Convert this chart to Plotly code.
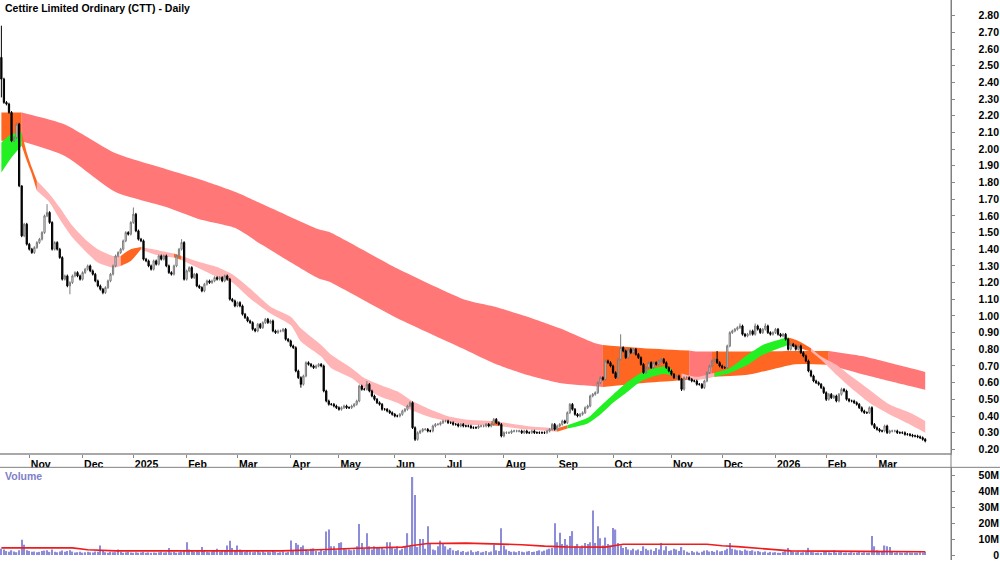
import numpy as np
import pandas as pd
import plotly.graph_objects as go

# ---------------- calendar (ASX trading days) ----------------
holidays = ["2024-12-25", "2024-12-26", "2025-01-01", "2025-01-27", "2025-04-18",
            "2025-04-21", "2025-04-25", "2025-06-09", "2025-12-25", "2025-12-26",
            "2026-01-01", "2026-01-26"]
dates = pd.bdate_range("2024-10-17", "2026-03-27")
dates = dates[~dates.isin(pd.to_datetime(holidays))]

month_labels = ["Nov", "Dec", "2025", "Feb", "Mar", "Apr", "May", "Jun", "Jul",
                "Aug", "Sep", "Oct", "Nov", "Dec", "2026", "Feb", "Mar"]
price_tick_labels = ["%.2f" % (v / 100) for v in range(20, 281, 10)]
volume_tick_labels = ["0", "10M", "20M", "30M", "40M", "50M"]

# ---------------- daily closes ----------------
close = [
    2.42, 2.28, 2.27, 2.22, 2.05, 2.07, 2.15, 1.78, 1.48, 1.55,
    1.43, 1.40, 1.38, 1.41, 1.44, 1.46, 1.50, 1.60, 1.62, 1.56,
    1.40, 1.44, 1.40, 1.35, 1.22, 1.24, 1.18, 1.20, 1.24, 1.26,
    1.24, 1.22, 1.26, 1.28, 1.30, 1.27, 1.25, 1.21, 1.18, 1.16,
    1.14, 1.17, 1.21, 1.25, 1.30, 1.36, 1.38, 1.40, 1.45, 1.50,
    1.49, 1.56, 1.61, 1.51, 1.46, 1.45, 1.34, 1.33, 1.30, 1.28,
    1.33, 1.31, 1.36, 1.34, 1.36, 1.30, 1.26, 1.25, 1.30, 1.36,
    1.40, 1.44, 1.22, 1.27, 1.29, 1.23, 1.25, 1.18, 1.17, 1.15,
    1.19, 1.21, 1.20, 1.21, 1.23, 1.22, 1.23, 1.21, 1.24, 1.22,
    1.10, 1.09, 1.06, 1.08, 1.06, 1.01, 0.99, 0.97, 0.96, 0.92,
    0.91, 0.95, 0.93, 0.96, 0.98, 0.96, 0.97, 0.91, 0.90, 0.91,
    0.91, 0.92, 0.86, 0.85, 0.82, 0.81, 0.67, 0.63, 0.59, 0.64,
    0.72, 0.71, 0.70, 0.69, 0.70, 0.71, 0.70, 0.55, 0.49, 0.47,
    0.47, 0.46, 0.45, 0.44, 0.45, 0.46, 0.45, 0.45, 0.46, 0.47,
    0.49, 0.58, 0.56, 0.56, 0.59, 0.55, 0.52, 0.50, 0.48, 0.47,
    0.44, 0.44, 0.43, 0.42, 0.41, 0.40, 0.40, 0.41, 0.43, 0.44,
    0.46, 0.48, 0.33, 0.26, 0.30, 0.31, 0.32, 0.32, 0.31, 0.31,
    0.34, 0.35, 0.35, 0.36, 0.37, 0.37, 0.36, 0.36, 0.35, 0.35,
    0.34, 0.35, 0.34, 0.34, 0.34, 0.33, 0.33, 0.33, 0.34, 0.34,
    0.34, 0.35, 0.34, 0.35, 0.38, 0.36, 0.35, 0.28, 0.30, 0.30,
    0.30, 0.31, 0.31, 0.31, 0.31, 0.30, 0.31, 0.30, 0.30, 0.31,
    0.30, 0.30, 0.30, 0.30, 0.30, 0.31, 0.32, 0.35, 0.32, 0.34,
    0.35, 0.37, 0.36, 0.42, 0.47, 0.44, 0.41, 0.40, 0.41, 0.42,
    0.45, 0.46, 0.52, 0.53, 0.54, 0.60, 0.63, 0.62, 0.73, 0.72,
    0.70, 0.66, 0.63, 0.74, 0.81, 0.79, 0.75, 0.80, 0.78, 0.80,
    0.77, 0.75, 0.71, 0.66, 0.69, 0.72, 0.69, 0.72, 0.71, 0.73,
    0.74, 0.72, 0.69, 0.67, 0.65, 0.63, 0.64, 0.62, 0.56, 0.63,
    0.63, 0.62, 0.61, 0.61, 0.59, 0.59, 0.57, 0.61, 0.66, 0.70,
    0.73, 0.74, 0.72, 0.70, 0.69, 0.69, 0.82, 0.90, 0.91, 0.92,
    0.93, 0.94, 0.89, 0.88, 0.89, 0.91, 0.89, 0.94, 0.92, 0.90,
    0.92, 0.94, 0.90, 0.89, 0.90, 0.92, 0.89, 0.88, 0.89, 0.86,
    0.80, 0.83, 0.82, 0.80, 0.82, 0.78, 0.76, 0.73, 0.67, 0.64,
    0.61, 0.60, 0.59, 0.57, 0.54, 0.50, 0.53, 0.51, 0.52, 0.49,
    0.53, 0.56, 0.55, 0.50, 0.49, 0.49, 0.48, 0.47, 0.45, 0.43,
    0.42, 0.42, 0.45, 0.35, 0.33, 0.32, 0.31, 0.31, 0.34, 0.30,
    0.31, 0.31, 0.31, 0.30, 0.30, 0.30, 0.29, 0.29, 0.285, 0.28,
    0.28, 0.275, 0.27, 0.26, 0.25,
]
first_open = 2.55
wick = 0.008
high_read = {0: 2.74, 8: 1.74, 18: 1.67, 52: 1.65, 71: 1.46, 144: 0.61, 244: 0.89,
             282: 0.79, 291: 0.955, 297: 0.955, 301: 0.955, 331: 0.57}
low_read = {0: 2.31, 27: 1.13, 40: 1.13, 118: 0.57, 163: 0.25, 268: 0.55, 325: 0.49}

# ---------------- daily volume, millions ----------------
volume_m = [
    4.0, 3.5, 2.5, 2.0, 3.0, 2.2, 1.8, 3.0, 9.6, 6.5,
    3.0, 2.5, 2.0, 2.2, 1.8, 2.0, 2.5, 2.8, 3.0, 2.0,
    3.5, 2.0, 1.8, 2.2, 2.8, 2.0, 2.5, 3.0, 2.2, 1.6,
    1.8, 2.0, 1.5, 1.7, 2.0, 1.8, 1.6, 2.2, 2.0, 6.0,
    2.5, 1.8, 1.5, 2.0, 1.7, 1.8, 3.5, 2.0, 1.5, 1.8,
    2.0, 1.6, 1.4, 1.8, 1.5, 1.6, 1.9, 1.5, 1.7, 1.4,
    1.6, 1.5, 1.8, 2.0, 1.6, 1.8, 4.5, 1.7, 2.0, 1.5,
    1.8, 2.2, 2.5, 8.0, 3.5, 2.5, 2.0, 3.0, 2.2, 5.0,
    2.5, 2.0, 1.8, 2.2, 2.8, 4.0, 2.0, 2.5, 3.0, 6.0,
    9.0, 4.5, 3.0, 6.0, 3.5, 2.5, 2.0, 2.8, 2.2, 1.8,
    2.0, 2.5, 1.8, 2.2, 1.6, 2.0, 1.8, 2.5, 2.0, 1.5,
    1.8, 2.2, 1.6, 2.0, 9.2, 3.0, 7.6, 6.5, 5.0, 6.0,
    3.5, 2.5, 4.0, 4.2, 2.5, 2.0, 3.5, 2.5, 14.7, 16.0,
    5.5, 5.5, 3.0, 7.6, 8.0, 4.0, 3.5, 3.5, 3.0, 3.5,
    5.5, 19.5, 7.5, 4.0, 13.7, 5.5, 3.5, 5.5, 4.5, 5.0,
    4.5, 3.5, 8.0, 8.0, 5.0, 4.0, 5.5, 3.0, 4.0, 5.5,
    13.7, 5.5, 49.0, 37.7, 5.0, 10.0, 10.0, 4.0, 18.0, 7.0,
    3.5, 3.0, 5.5, 9.0, 7.5, 5.5, 3.5, 4.5, 3.0, 2.5,
    3.0, 2.0, 2.5, 1.8, 2.2, 3.0, 1.8, 2.0, 2.5, 1.6,
    2.0, 2.5, 1.8, 2.2, 6.5, 3.0, 2.5, 16.8, 6.0, 3.5,
    2.5, 2.0, 2.2, 1.8, 2.5, 2.0, 1.8, 2.2, 2.5, 1.9,
    2.0, 2.5, 3.0, 2.2, 2.8, 3.5, 4.0, 4.5, 20.0, 8.0,
    14.0, 7.0, 10.0, 6.5, 12.0, 15.0, 5.5, 7.0, 4.8, 6.0,
    7.5, 7.0, 8.0, 28.0, 7.5, 18.0, 10.6, 6.0, 11.0, 7.0,
    6.0, 17.0, 16.0, 7.5, 6.0, 4.5, 5.0, 3.5, 3.0, 4.0,
    2.8, 3.5, 2.5, 5.5, 4.0, 3.0, 3.5, 2.5, 4.5, 3.5,
    7.5, 3.0, 5.5, 2.5, 3.0, 4.0, 3.5, 2.5, 5.0, 3.0,
    2.0, 1.5, 2.5, 1.8, 2.2, 1.5, 2.0, 2.8, 3.0, 2.2,
    2.5, 2.0, 3.0, 2.2, 2.5, 3.0, 4.0, 7.5, 4.0, 3.5,
    3.0, 3.0, 2.5, 3.5, 2.8, 2.5, 3.0, 2.2, 2.5, 2.0,
    1.8, 2.2, 1.5, 2.0, 1.6, 1.8, 1.5, 1.4, 2.0, 2.5,
    4.5, 2.5, 2.0, 1.8, 2.2, 1.6, 1.8, 2.0, 4.5, 2.0,
    1.8, 1.5, 1.6, 1.4, 2.0, 2.2, 1.8, 1.5, 3.0, 1.6,
    1.8, 2.0, 1.5, 1.6, 1.4, 1.8, 1.5, 1.6, 2.0, 1.5,
    1.8, 1.4, 1.6, 12.0, 5.5, 3.0, 2.5, 2.0, 6.0, 5.5,
    5.0, 2.0, 1.5, 1.8, 1.6, 1.4, 1.5, 1.8, 1.6, 1.5,
    1.4, 1.5, 1.8, 1.6, 2.0,
]

# volume moving average (read at sample days)
vol_ma_day = [0, 28, 34, 45, 110, 118, 128, 140, 158, 162, 168, 183, 195, 205, 214,
              222, 238, 245, 278, 284, 290, 297, 305, 311, 340, 364]
vol_ma_val = [4.5, 4.5, 3.3, 2.6, 2.6, 2.9, 3.5, 4.3, 5.0, 6.0, 7.2, 7.5, 7.0, 6.5, 5.6,
              5.1, 5.0, 6.8, 6.8, 5.8, 5.3, 4.5, 3.2, 2.6, 2.3, 2.1]

# ---------------- long-term band (read at sample days) ----------------
long_day = [0, 8, 25, 45, 65, 78, 92, 103, 125, 129, 156, 183, 194, 207, 220, 234,
            237, 253, 271, 274, 280, 294, 313, 326, 340, 353, 364]
long_hi = [2.22, 2.22, 2.148, 1.975, 1.88, 1.82, 1.745, 1.67, 1.52, 1.504, 1.284,
           1.095, 1.056, 0.997, 0.926, 0.836, 0.826, 0.807, 0.793, 0.787, 0.787,
           0.787, 0.79, 0.79, 0.757, 0.707, 0.664]
long_lo = [2.05, 2.047, 1.959, 1.743, 1.653, 1.58, 1.528, 1.423, 1.225, 1.206, 0.986,
           0.796, 0.717, 0.647, 0.598, 0.578, 0.574, 0.598, 0.618, 0.628, 0.635,
           0.647, 0.711, 0.707, 0.647, 0.598, 0.558]
long_segments = [(0, 8, "orange"), (8, 237, "red"), (237, 271, "orange"),
                 (271, 280, "red"), (280, 326, "orange"), (326, 364, "red")]

# ---------------- short-term band (read at sample days) ----------------
short_day = [0, 4, 8, 10, 12, 14, 19, 23, 28, 33, 38, 44, 47, 51, 55, 57, 62, 68, 71,
             78, 85, 91, 98, 106, 114, 118, 126, 130, 138, 143, 149, 156, 161, 169,
             176, 183, 193, 196, 207, 219, 223, 231, 236, 241, 247, 252, 257, 261,
             264, 268, 274, 281, 287, 294, 300, 307, 310, 314, 319, 323, 329, 334,
             342, 350, 358, 364]
short_hi = [2.04, 2.09, 2.10, 1.98, 1.89, 1.81, 1.73, 1.65, 1.54, 1.46, 1.40, 1.36,
            1.36, 1.40, 1.413, 1.407, 1.393, 1.375, 1.36, 1.324, 1.294, 1.25, 1.164,
            1.055, 0.995, 0.926, 0.826, 0.767, 0.687, 0.628, 0.588, 0.548, 0.498,
            0.439, 0.399, 0.379, 0.37, 0.365, 0.34, 0.326, 0.345, 0.389, 0.459,
            0.528, 0.608, 0.658, 0.687, 0.697, 0.685, 0.655, 0.635, 0.66, 0.687,
            0.767, 0.826, 0.86, 0.87, 0.85, 0.807, 0.757, 0.707, 0.647, 0.558,
            0.469, 0.419, 0.37]
short_lo = [1.86, 1.95, 2.02, 1.93, 1.85, 1.75, 1.68, 1.58, 1.47, 1.39, 1.32, 1.29,
            1.30, 1.33, 1.40, 1.387, 1.363, 1.35, 1.335, 1.284, 1.234, 1.20, 1.104,
            1.015, 0.945, 0.847, 0.757, 0.687, 0.628, 0.568, 0.519, 0.479, 0.439,
            0.393, 0.369, 0.349, 0.345, 0.34, 0.32, 0.306, 0.325, 0.355, 0.409,
            0.479, 0.548, 0.608, 0.638, 0.652, 0.645, 0.63, 0.615, 0.635, 0.658,
            0.707, 0.767, 0.81, 0.826, 0.81, 0.787, 0.737, 0.647, 0.578, 0.479,
            0.409, 0.349, 0.30]
short_segments = [(0, 8, "green"), (8, 14, "orange"), (14, 47, "pink"),
                  (47, 55, "orange"), (55, 68, "pink"), (68, 71, "orange"),
                  (71, 193, "pink"), (193, 196, "orange"), (196, 219, "pink"),
                  (219, 223, "orange"), (223, 264, "green"), (264, 268, "orange"),
                  (268, 281, "pink"), (281, 310, "green"), (310, 319, "orange"),
                  (319, 364, "pink")]

COLORS = {"red": "#FF7777", "orange": "#FF6622", "green": "#22F022", "pink": "#FFB5B5"}

assert len(close) == len(dates) == len(volume_m)

# ---------------- derived ----------------
n = len(close)
idx = list(range(n))
open_ = [first_open] + close[:-1]
high = [high_read.get(i, max(open_[i], close[i]) + wick) for i in idx]
low = [low_read.get(i, min(open_[i], close[i]) - wick) for i in idx]

months = dates.to_period("M")
tick_idx = [i for i in range(1, n) if months[i] != months[i - 1]]

fig = go.Figure()


def add_band(days, hi, lo, segments):
    for a, b, col in segments:
        sel = [k for k, d in enumerate(days) if a <= d <= b]
        xs = [days[k] for k in sel]
        fig.add_trace(go.Scatter(x=xs, y=[lo[k] for k in sel], mode="lines",
                                 line=dict(width=0, shape="spline", smoothing=0.6),
                                 hoverinfo="skip", showlegend=False))
        fig.add_trace(go.Scatter(x=xs, y=[hi[k] for k in sel], mode="lines",
                                 line=dict(width=0, shape="spline", smoothing=0.6),
                                 fill="tonexty", fillcolor=COLORS[col],
                                 hoverinfo="skip", showlegend=False))


add_band(long_day, long_hi, long_lo, long_segments)
add_band(short_day, short_hi, short_lo, short_segments)

# candles live on an overlaying axis (same scale) so they sit above the bands
fig.add_trace(go.Candlestick(
    x=idx, open=open_, high=high, low=low, close=close,
    increasing=dict(line=dict(color="#7a7a7a", width=1), fillcolor="white"),
    decreasing=dict(line=dict(color="black", width=1), fillcolor="black"),
    whiskerwidth=0, hoverinfo="skip", showlegend=False, yaxis="y3"))

fig.add_trace(go.Bar(x=idx, y=volume_m, marker=dict(color="#8c8cd8", line=dict(width=0)),
                     width=0.5, xaxis="x2", yaxis="y2", hoverinfo="skip", showlegend=False))
fig.add_trace(go.Scatter(x=vol_ma_day, y=vol_ma_val, mode="lines",
                         line=dict(color="#EE1C1C", width=1.6),
                         xaxis="x2", yaxis="y2", hoverinfo="skip", showlegend=False))
fig.add_trace(go.Scatter(x=[0], y=[0], mode="markers", marker=dict(opacity=0),
                         xaxis="x2", yaxis="y4", hoverinfo="skip", showlegend=False))

W, H = 1000, 562
px0, pxslope = 1.38, 2.538
x_range = [(0 - px0) / pxslope, (951 - px0) / pxslope]
y_main_dom = [1 - 455 / H, 1]
y_vol_dom = [0, 1 - 469 / H]
price_range = [0.176, 2.894]
vol_range = [-3.1, 55]
price_ticks = [v / 100 for v in range(20, 281, 10)]
vol_ticks = [0, 10, 20, 30, 40, 50]
FONT = "Liberation Sans, Arial, sans-serif"
bold = dict(family=FONT, size=10.5, color="black", weight="bold")

fig.update_layout(
    width=W, height=H, margin=dict(l=0, r=0, t=0, b=0),
    paper_bgcolor="white", plot_bgcolor="white", showlegend=False,
    font=dict(family=FONT, size=10.5, color="black"),
    xaxis=dict(domain=[0, 0.951], range=x_range, anchor="y",
               tickmode="array", tickvals=tick_idx, ticktext=month_labels,
               ticks="outside", ticklen=3, tickcolor="#888888",
               showline=True, linecolor="#a8a8a8", linewidth=2,
               showgrid=False, zeroline=False, ticklabelposition="outside right",
               tickfont=bold, rangeslider=dict(visible=False)),
    yaxis=dict(domain=y_main_dom, range=price_range, anchor="x", side="right",
               tickmode="array", tickvals=price_ticks, showticklabels=False,
               ticks="outside", ticklen=3, tickcolor="#888888",
               showline=True, linecolor="#808080", linewidth=1,
               showgrid=False, zeroline=False),
    yaxis3=dict(overlaying="y", anchor="free", position=0.999, side="left",
                range=price_range, tickmode="array", tickvals=price_ticks,
                ticktext=price_tick_labels, ticklabelposition="outside", ticks="",
                showline=False, showgrid=False, zeroline=False, tickfont=bold),
    xaxis2=dict(domain=[0, 0.951], range=x_range, anchor="y2", showticklabels=False,
                showline=False, showgrid=False, zeroline=False, ticks=""),
    yaxis2=dict(domain=y_vol_dom, range=vol_range, anchor="x2", side="right",
                tickmode="array", tickvals=vol_ticks, showticklabels=False,
                ticks="outside", ticklen=3, tickcolor="#888888",
                showline=True, linecolor="#808080", linewidth=1,
                showgrid=False, zeroline=False),
    yaxis4=dict(overlaying="y2", anchor="free", position=0.999, side="left",
                range=vol_range, tickmode="array", tickvals=vol_ticks,
                ticktext=volume_tick_labels, ticklabelposition="outside", ticks="",
                showline=False, showgrid=False, zeroline=False, tickfont=bold),
    shapes=[
        dict(type="line", xref="paper", yref="paper", x0=0.951, x1=0.951, y0=0, y1=1,
             line=dict(color="#808080", width=1)),
        dict(type="line", xref="paper", yref="paper", x0=0, x1=1,
             y0=1 - 469 / H, y1=1 - 469 / H, line=dict(color="#808080", width=1)),
    ],
    annotations=[
        dict(text="Cettire Limited Ordinary (CTT) - Daily", xref="paper", yref="paper",
             x=0.003, y=1 - 8 / H, xanchor="left", yanchor="middle", showarrow=False,
             font=dict(family=FONT, size=10.5, color="black", weight="bold")),
        dict(text="Volume", xref="paper", yref="paper",
             x=0.003, y=1 - 478 / H, xanchor="left", yanchor="middle", showarrow=False,
             font=dict(family=FONT, size=10.5, color="#8080C8", weight="bold")),
    ],
)

fig.write_html("out.html", config=dict(displayModeBar=False))
